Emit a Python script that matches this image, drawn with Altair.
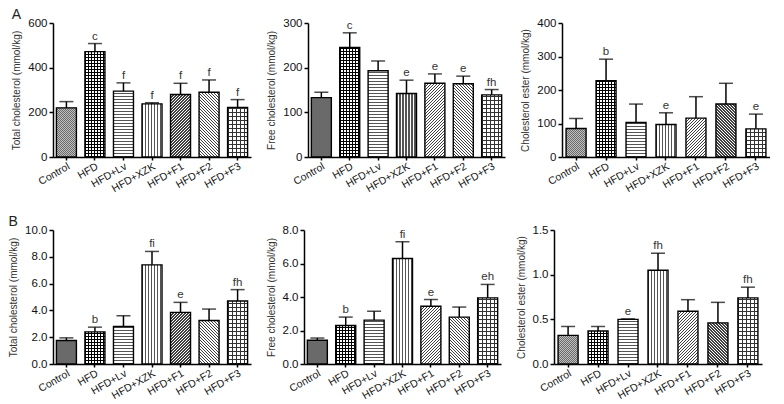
import math
import altair as alt
import pandas as pd

# ---------------- data ----------------
categories = ["Control", "HFD", "HFD+Lv", "HFD+XZK", "HFD+F1", "HFD+F2", "HFD+F3"]

A_total_mean = [220, 472, 295, 238, 280, 290, 222]
A_total_err = [28, 36, 37, 5, 50, 55, 35]
A_total_sig = ["", "c", "f", "f", "f", "f", "f"]

A_free_mean = [133, 245, 193, 142, 165, 164, 139]
A_free_err = [12, 33, 22, 30, 21, 17, 12]
A_free_sig = ["", "c", "", "e", "e", "e", "fh"]

A_ester_mean = [85, 228, 103, 97, 116, 158, 84]
A_ester_err = [30, 64, 55, 35, 64, 62, 44]
A_ester_sig = ["", "b", "", "e", "", "", "e"]

B_total_mean = [1.75, 2.4, 2.8, 7.4, 3.85, 3.25, 4.7]
B_total_err = [0.2, 0.35, 0.8, 1.0, 0.75, 0.85, 0.85]
B_total_sig = ["", "b", "", "fi", "e", "", "fh"]

B_free_mean = [1.42, 2.3, 2.62, 6.3, 3.45, 2.8, 3.95]
B_free_err = [0.13, 0.5, 0.53, 1.0, 0.4, 0.6, 0.8]
B_free_sig = ["", "b", "", "fi", "e", "", "eh"]

B_ester_mean = [0.32, 0.37, 0.50, 1.05, 0.59, 0.46, 0.74]
B_ester_err = [0.10, 0.05, 0.005, 0.19, 0.13, 0.23, 0.12]
B_ester_sig = ["", "", "e", "fh", "", "", "fh"]

y_titles = ["Total cholesterol (mmol/kg)", "Free cholesterol (mmol/kg)", "Cholesterol ester (mmol/kg)"]

A_ticks = [[0, 200, 400, 600], [0, 100, 200, 300], [0, 100, 200, 300, 400]]
B_ticks = [[0, 2, 4, 6, 8, 10], [0, 2, 4, 6, 8], [0, 0.5, 1.0, 1.5]]

# ---------------- style ----------------
FONT = "Liberation Sans"
H = 134
BAR_W = 20
WIDTHS = [198, 197, 208]
TRANSPARENT = "rgba(0,0,0,0)"

PATTERNS = {
    "Control": [("solid", "#c0c0c0"), ("d1", 2.0, 0.4, "#6a6a6a"), ("d2", 2.0, 0.4, "#6a6a6a")],
    "HFD": [("solid", "white"), ("h", 3.0, 0.38, "black"), ("v", 3.0, 0.38, "black")],
    "HFD+Lv": [("solid", "white"), ("h", 3.0, 0.4, "#555555")],
    "HFD+XZK": [("solid", "white"), ("v", 3.0, 0.35, "#555555")],
    "HFD+F1": [("solid", "white"), ("d1", 3.0, 0.5, "#404040")],
    "HFD+F2": [("solid", "white"), ("d2", 3.0, 0.5, "#404040")],
    "HFD+F3": [("solid", "white"), ("h", 4.0, 0.3, "#333333"), ("v", 4.0, 0.3, "#333333")],
}


def stripe_gradient(kind, w, h, period, frac, color):
    if kind == "h":
        L = h
        c = dict(x1=0, y1=1, x2=0, y2=0)
    elif kind == "v":
        L = w
        c = dict(x1=0, y1=0, x2=1, y2=0)
    else:
        s = (w + h) / (w * w + h * h)
        L = w + h
        if kind == "d1":
            c = dict(x1=0, y1=0, x2=w * s, y2=h * s)
        else:
            c = dict(x1=0, y1=1, x2=w * s, y2=1 - h * s)
    stops = []
    k = 0
    while k * period < L:
        a = round(k * period / L, 5)
        b = round(min(1.0, (k + frac) * period / L), 5)
        e = round(min(1.0, (k + 1) * period / L), 5)
        stops += [
            {"offset": a, "color": color},
            {"offset": b, "color": color},
            {"offset": b, "color": TRANSPARENT},
            {"offset": e, "color": TRANSPARENT},
        ]
        k += 1
    g = {"gradient": "linear", "stops": stops}
    g.update(c)
    return g


def panel(mean, err, sig, ymax, ticks, fmt, ytitle, width):
    df = pd.DataFrame({
        "cat": categories,
        "mean": mean,
        "upper": [m + e for m, e in zip(mean, err)],
        "sig": sig,
    })
    yscale = alt.Scale(domain=[0, ymax], nice=False, zero=True)
    yaxis = alt.Axis(values=ticks, format=fmt, tickSize=4, labelFontSize=11.5,
                     labelOverlap=False, labelFlush=False,
                     titleFontSize=10, titleFontWeight="normal",
                     titleColor="#333", titlePadding=6, labelColor="#111")

    def Y(field):
        return alt.Y(field, title=ytitle, scale=yscale, axis=yaxis)

    base = alt.Chart(df).encode(
        x=alt.X("cat:N", sort=categories, title=None,
                scale=alt.Scale(paddingInner=0.3, paddingOuter=0.12),
                axis=alt.Axis(labelAngle=-30, labelFontSize=10.5, tickSize=3,
                              labelPadding=1, labelColor="#111", labelOverlap=False)),
        y=Y("mean:Q"),
    )
    layers = []
    for i, c in enumerate(categories):
        h = mean[i] / ymax * H
        for spec in PATTERNS[c]:
            if spec[0] == "solid":
                fill = spec[1]
            else:
                fill = stripe_gradient(spec[0], BAR_W, h, spec[1], spec[2], spec[3])
            layers.append(
                base.transform_filter(alt.datum.cat == c).mark_bar(size=BAR_W, fill=fill, strokeWidth=0)
            )
    layers.append(base.mark_bar(size=BAR_W, fillOpacity=0, stroke="black", strokeWidth=1.4))
    layers.append(base.mark_rule(color="black", strokeWidth=1.5).encode(y2="upper:Q"))
    layers.append(base.mark_tick(color="black", size=14, thickness=1.5).encode(y=Y("upper:Q")))
    layers.append(base.mark_text(baseline="bottom", dy=-2, fontSize=11.5, color="#333",
                                 font=FONT).encode(y=Y("upper:Q"), text="sig:N"))
    return alt.layer(*layers).properties(width=width, height=H)


rowA = [
    panel(A_total_mean, A_total_err, A_total_sig, 600, A_ticks[0], "d", y_titles[0], WIDTHS[0]),
    panel(A_free_mean, A_free_err, A_free_sig, 300, A_ticks[1], "d", y_titles[1], WIDTHS[1]),
    panel(A_ester_mean, A_ester_err, A_ester_sig, 400, A_ticks[2], "d", y_titles[2], WIDTHS[2]),
]
rowB = [
    panel(B_total_mean, B_total_err, B_total_sig, 10, B_ticks[0], ".1f", y_titles[0], WIDTHS[0]),
    panel(B_free_mean, B_free_err, B_free_sig, 8, B_ticks[1], ".1f", y_titles[1], WIDTHS[1]),
    panel(B_ester_mean, B_ester_err, B_ester_sig, 1.5, B_ticks[2], ".1f", y_titles[2], WIDTHS[2]),
]


def row_title(t):
    return alt.TitleParams(t, anchor="start", fontSize=14, fontWeight="normal", offset=-5,
                           font=FONT, color="#222")


chart = alt.vconcat(
    alt.hconcat(*rowA, spacing=15).properties(title=row_title("A")),
    alt.hconcat(*rowB, spacing=15).properties(title=row_title("B")),
    spacing=20,
).properties(padding=0).configure_view(stroke=None).configure_axis(
    domainColor="black", domainWidth=1.5, tickColor="black", tickWidth=1.5,
    grid=False, labelFont=FONT, titleFont=FONT,
)

chart.save("out.html", embed_options={"renderer": "svg", "actions": False})
